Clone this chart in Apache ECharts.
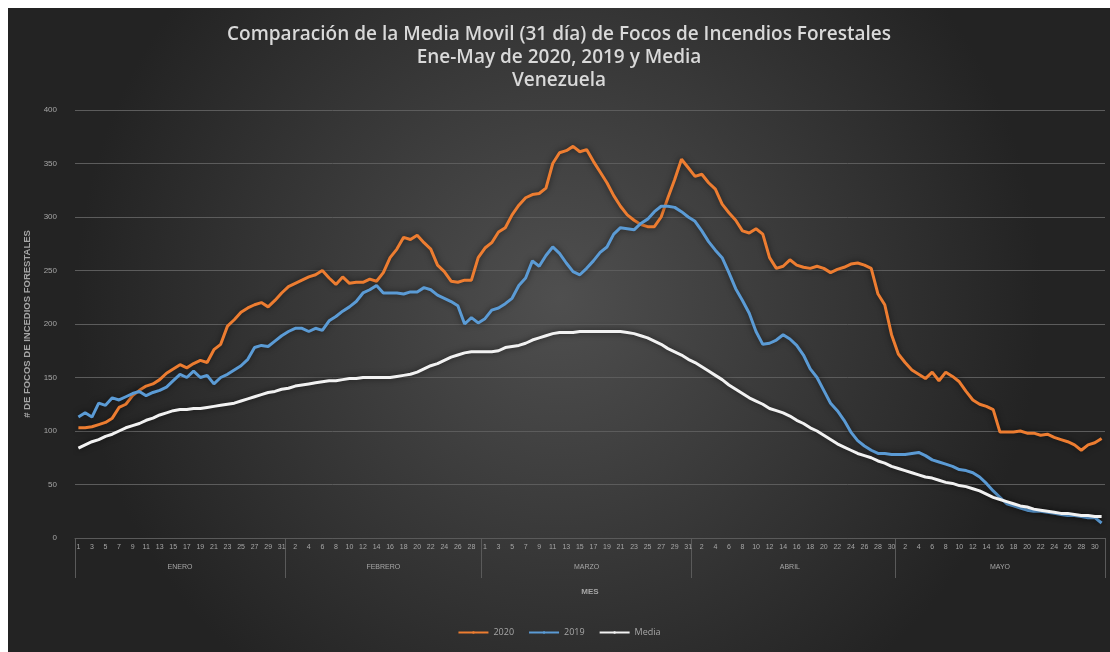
<!DOCTYPE html>
<html>
  <head>
    <meta charset="utf-8">
    <title>Media Movil Focos de Incendios - Venezuela</title>
    <style>
      body{ margin:0; background:#ffffff; }
      div.main{ position:absolute; left:8px; top:8px; width:1102px; height:644px; }
    </style>
    <script src="https://cdn.jsdelivr.net/npm/echarts@6/dist/echarts.min.js"></script>
  </head>
  <body>
    <div id="main" class="main"></div>
    <script type="text/javascript">

      // months and their lengths (2020, leap year)
      var monthNames = ['ENERO', 'FEBRERO', 'MARZO', 'ABRIL', 'MAYO']
      var monthDays = [31, 29, 31, 30, 31]

      // 31 day moving average
      var serie2020 = [103,103,104,106,108,112,122,125,133,138,142,144,148,154,158,162,159,163,166,164,
        176,181,198,204,211,215,218,220,216,222,229,235,238,241,244,246,250,243,237,244,
        238,239,239,242,240,248,262,270,281,279,283,276,270,255,249,240,239,241,241,262,
        271,276,286,290,302,311,318,321,322,327,350,360,362,366,361,363,352,342,332,320,
        310,302,297,293,291,291,300,318,335,354,346,338,340,332,326,312,304,297,287,285,
        289,284,262,252,254,260,255,253,252,254,252,248,251,253,256,257,255,252,228,218,
        190,172,164,157,153,149,155,147,155,151,146,137,129,125,123,120,99,99,99,100,
        98,98,96,97,94,92,90,87,82,87,89,93]

      var serie2019 = [113,117,113,126,124,131,129,132,135,137,133,136,138,141,147,153,150,156,150,152,
        144,150,153,157,161,167,178,180,179,184,189,193,196,196,193,196,194,203,207,212,
        216,221,229,232,236,229,229,229,228,230,230,234,232,227,224,221,217,200,206,201,
        205,213,215,219,224,236,243,259,254,264,272,266,257,249,246,252,259,267,272,284,
        290,289,288,294,298,305,310,310,309,305,300,296,287,277,269,262,248,233,222,210,
        193,181,182,185,190,186,180,171,158,150,138,126,119,110,99,91,86,82,79,79,
        78,78,78,79,80,77,73,71,69,67,64,63,61,57,51,44,38,32,30,28,
        26,25,25,24,23,22,21,21,20,19,19,14]

      var serieMedia = [84,87,90,92,95,97,100,103,105,107,110,112,115,117,119,120,120,121,121,122,
        123,124,125,126,128,130,132,134,136,137,139,140,142,143,144,145,146,147,147,148,
        149,149,150,150,150,150,150,151,152,153,155,158,161,163,166,169,171,173,174,174,
        174,174,175,178,179,180,182,185,187,189,191,192,192,192,193,193,193,193,193,193,
        193,192,191,189,187,184,181,177,174,171,167,164,160,156,152,148,143,139,135,131,
        128,125,121,119,117,114,110,107,103,100,96,92,88,85,82,79,77,75,72,70,
        67,65,63,61,59,57,56,54,52,51,49,48,46,44,41,38,36,34,32,30,
        29,27,26,25,24,23,23,22,21,21,20,20]

      // day labels and month group labels
      var dayLabels = []
      var monthLabels = []
      var monthStarts = []
      for (var m = 0; m < monthNames.length; m++) {
        monthStarts.push(dayLabels.length)
        for (var d = 1; d <= monthDays[m]; d++) {
          dayLabels.push(String(d))
          monthLabels.push(d == Math.ceil(monthDays[m] / 2) ? monthNames[m] : '')
        }
      }
      monthStarts.push(dayLabels.length)

      var textGrey = '#a6a6a6'
      var myChart = echarts.init(document.getElementById('main'))

      var option = {
        backgroundColor: {
          type: 'radial', x: 0.5, y: 0.45, r: 0.75,
          colorStops: [
            { offset: 0, color: '#4f4f4f' },
            { offset: 1, color: '#232323' }
          ]
        },
        title: {
          text: 'Comparación de la Media Movil (31 día) de Focos de Incendios Forestales\nEne-May de 2020, 2019 y Media\nVenezuela',
          left: 'center',
          top: 10,
          textStyle: {
            color: '#d9d9d9',
            fontFamily: 'Open Sans',
            fontSize: 19,
            fontWeight: 600,
            lineHeight: 23
          }
        },
        legend: {
          data: ['2020', '2019', 'Media'],
          bottom: 10,
          left: 'center',
          itemWidth: 30,
          itemHeight: 3,
          itemGap: 14,
          textStyle: { color: textGrey, fontSize: 9, fontFamily: 'Open Sans' }
        },
        grid: { left: 67, right: 5, top: 102, bottom: 114 },
        xAxis: [
          {
            type: 'category',
            data: dayLabels,
            boundaryGap: true,
            name: 'MES',
            nameLocation: 'middle',
            nameGap: 50,
            nameTextStyle: { color: textGrey, fontSize: 8, fontWeight: 'bold' },
            axisLine: { lineStyle: { color: '#5a5a5a' } },
            axisTick: { show: false },
            axisLabel: { interval: 1, color: textGrey, fontSize: 7, margin: 6 }
          },
          {
            type: 'category',
            data: monthLabels,
            position: 'bottom',
            boundaryGap: true,
            axisLine: { show: false },
            axisTick: {
              show: true,
              length: 40,
              interval: function (index) { return monthStarts.indexOf(index) >= 0 },
              lineStyle: { color: '#5a5a5a' }
            },
            axisLabel: { interval: 0, color: textGrey, fontSize: 7, margin: 26 }
          }
        ],
        yAxis: {
          type: 'value',
          min: 0,
          max: 400,
          interval: 50,
          name: '# DE FOCOS DE INCEDIOS FORESTALES',
          nameLocation: 'middle',
          nameGap: 30,
          nameTextStyle: { color: textGrey, fontSize: 9.5, fontWeight: 'bold' },
          axisLabel: { color: textGrey, fontSize: 8, margin: 18 },
          splitLine: { lineStyle: { color: '#5c5c5c', width: 1 } }
        },
        series: [
          {
            name: '2020', type: 'line', data: serie2020, symbol: 'none',
            lineStyle: { color: '#ed7d31', width: 3, shadowBlur: 6, shadowColor: 'rgba(0,0,0,0.6)' },
            itemStyle: { color: '#ed7d31' }
          },
          {
            name: '2019', type: 'line', data: serie2019, symbol: 'none',
            lineStyle: { color: '#5b9bd5', width: 3, shadowBlur: 6, shadowColor: 'rgba(0,0,0,0.6)' },
            itemStyle: { color: '#5b9bd5' }
          },
          {
            name: 'Media', type: 'line', data: serieMedia, symbol: 'none',
            lineStyle: { color: '#f2f2f2', width: 3, shadowBlur: 6, shadowColor: 'rgba(0,0,0,0.6)' },
            itemStyle: { color: '#f2f2f2' }
          }
        ]
      }

      myChart.setOption(option)
    </script>
  </body>
</html>
